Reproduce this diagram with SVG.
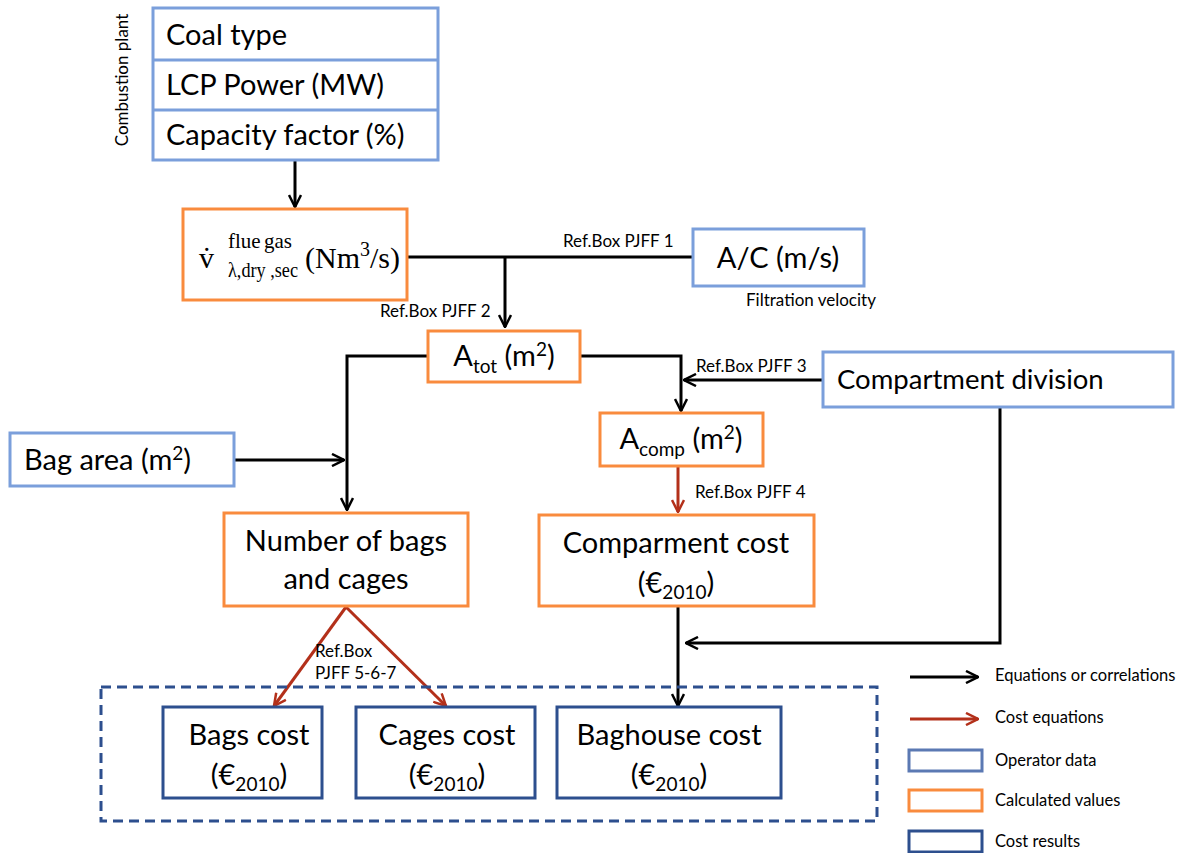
<svg xmlns="http://www.w3.org/2000/svg" width="1184" height="853" viewBox="0 0 1184 853">
<style>
text{font-family:Lato,"Open Sans","Liberation Sans",sans-serif;fill:#000}
.in{fill:#fff;stroke:#7b9fdb;stroke-width:3}
.calc{fill:#fff;stroke:#f98b3e;stroke-width:3}
.res{fill:#fff;stroke:#2d4f8e;stroke-width:3}
.big{font-size:29px}
.lbl{font-size:17px}
.leg{font-size:16.5px}
.blk{fill:none;stroke:#000;stroke-width:3}
.red{fill:none;stroke:#b3301a;stroke-width:3}
.serif{font-family:"Liberation Serif","DejaVu Serif",serif}
</style>
<defs>
<marker id="ab" viewBox="0 0 14 14" refX="13" refY="7" markerWidth="14" markerHeight="14" markerUnits="userSpaceOnUse" orient="auto"><path d="M1,1 L13,7 L1,13" fill="none" stroke="#000" stroke-width="2.5"/></marker>
<marker id="ar" viewBox="0 0 14 14" refX="13" refY="7" markerWidth="14" markerHeight="14" markerUnits="userSpaceOnUse" orient="auto"><path d="M1,1 L13,7 L1,13" fill="none" stroke="#b3301a" stroke-width="2.5"/></marker>
</defs>

<g id="connectors">
<path class="blk" d="M295,160 V207" marker-end="url(#ab)"/>
<path class="blk" d="M407,257 H693"/>
<path class="blk" d="M505,257 V327" marker-end="url(#ab)"/>
<path class="blk" d="M428,356 H347 V510" marker-end="url(#ab)"/>
<path class="blk" d="M234,460 H344" marker-end="url(#ab)"/>
<path class="blk" d="M580,356 H681 V411" marker-end="url(#ab)"/>
<path class="blk" d="M823,380 H684" marker-end="url(#ab)"/>
<path class="red" d="M678,466 V512" marker-end="url(#ar)"/>
<path class="blk" d="M1000,407 V643 H686" marker-end="url(#ab)"/>
<path class="blk" d="M678,606 V706" marker-end="url(#ab)"/>
<path class="red" d="M346,607 L274,706" marker-end="url(#ar)"/>
<path class="red" d="M346,607 L446,706" marker-end="url(#ar)"/>
<text class="lbl" x="563" y="247">Ref.Box PJFF 1</text>
<text class="lbl" x="380" y="317">Ref.Box PJFF 2</text>
<text class="lbl" x="696" y="372">Ref.Box PJFF 3</text>
<text class="lbl" x="695" y="498">Ref.Box PJFF 4</text>
<text class="lbl" x="315" y="657">Ref.Box</text>
<text class="lbl" x="315" y="679">PJFF 5-6-7</text>
</g>

<g id="combustion-plant">
<rect class="in" x="153" y="8" width="285" height="152"/>
<line class="in" x1="153" y1="60" x2="438" y2="60"/>
<line class="in" x1="153" y1="110" x2="438" y2="110"/>
<text class="big" x="166" y="45">Coal type</text>
<text class="big" x="166" y="95">LCP Power (MW)</text>
<text class="big" x="166" y="145">Capacity factor (%)</text>
<text class="lbl" transform="translate(128,80) rotate(-90)" text-anchor="middle">Combustion plant</text>
</g>

<g id="flue-gas">
<rect class="calc" x="183" y="209" width="224" height="91"/>
<text class="serif" x="199" y="268" font-size="30">v̇</text>
<text class="serif" x="228" y="248" font-size="21">flue</text>
<text class="serif" x="264" y="248" font-size="21">gas</text>
<text class="serif" x="228" y="277" font-size="20" textLength="70" lengthAdjust="spacingAndGlyphs">λ,dry ,sec</text>
<text class="serif" x="305" y="268" font-size="30">(Nm<tspan font-size="20" dy="-12">3</tspan><tspan dy="12">/s)</tspan></text>
</g>

<g id="ac">
<rect class="in" x="693" y="229" width="171" height="57"/>
<text class="big" x="778" y="268" text-anchor="middle">A/C (m/s)</text>
<text class="lbl" x="746" y="306">Filtration velocity</text>
</g>

<g id="atot">
<rect class="calc" x="428" y="331" width="152" height="51"/>
<text class="big" x="504" y="366" text-anchor="middle">A<tspan font-size="19" dy="7">tot</tspan><tspan dy="-7"> (m</tspan><tspan font-size="19" dy="-10">2</tspan><tspan dy="10">)</tspan></text>
</g>

<g id="compartment-division">
<rect class="in" x="823" y="352" width="350" height="55"/>
<text x="837" y="389" font-size="27.5">Compartment division</text>
</g>

<g id="acomp">
<rect class="calc" x="600" y="413" width="163" height="53"/>
<text class="big" x="681" y="449" text-anchor="middle">A<tspan font-size="19" dy="7">comp</tspan><tspan dy="-7"> (m</tspan><tspan font-size="19" dy="-10">2</tspan><tspan dy="10">)</tspan></text>
</g>

<g id="bag-area">
<rect class="in" x="10" y="433" width="224" height="53"/>
<text class="big" x="24" y="470">Bag area (m<tspan font-size="19" dy="-10">2</tspan><tspan dy="10">)</tspan></text>
</g>

<g id="number-bags">
<rect class="calc" x="224" y="513" width="244" height="93"/>
<text class="big" x="346" y="551" text-anchor="middle">Number of bags</text>
<text class="big" x="346" y="589" text-anchor="middle">and cages</text>
</g>

<g id="compartment-cost">
<rect class="calc" x="539" y="515" width="275" height="91"/>
<text class="big" x="676" y="553" text-anchor="middle">Comparment cost</text>
<text class="big" x="676" y="593" text-anchor="middle">(€<tspan font-size="19" dy="6">2010</tspan><tspan dy="-6">)</tspan></text>
</g>

<g id="results-group">
<rect x="101" y="687" width="776" height="134" fill="none" stroke="#2d4f8e" stroke-width="3" stroke-dasharray="10,6"/>
</g>

<g id="bags-cost">
<rect class="res" x="163" y="707" width="159" height="91"/>
<text class="big" x="249" y="745" text-anchor="middle">Bags cost</text>
<text class="big" x="249" y="785" text-anchor="middle">(€<tspan font-size="19" dy="6">2010</tspan><tspan dy="-6">)</tspan></text>
</g>

<g id="cages-cost">
<rect class="res" x="356" y="707" width="179" height="91"/>
<text class="big" x="447" y="745" text-anchor="middle">Cages cost</text>
<text class="big" x="447" y="785" text-anchor="middle">(€<tspan font-size="19" dy="6">2010</tspan><tspan dy="-6">)</tspan></text>
</g>

<g id="baghouse-cost">
<rect class="res" x="557" y="707" width="224" height="91"/>
<text class="big" x="669" y="745" text-anchor="middle">Baghouse cost</text>
<text class="big" x="669" y="785" text-anchor="middle">(€<tspan font-size="19" dy="6">2010</tspan><tspan dy="-6">)</tspan></text>
</g>

<g id="legend">
<path class="blk" d="M910,677 H978" marker-end="url(#ab)"/>
<text class="leg" x="995" y="681">Equations or correlations</text>
<path class="red" d="M910,719 H978" marker-end="url(#ar)"/>
<text class="leg" x="995" y="723">Cost equations</text>
<rect x="909" y="750" width="73" height="21" fill="#fff" stroke="#5b79b3" stroke-width="3"/>
<text class="leg" x="995" y="766">Operator data</text>
<rect x="909" y="790" width="73" height="21" fill="#fff" stroke="#f98b3e" stroke-width="3"/>
<text class="leg" x="995" y="806">Calculated values</text>
<rect x="909" y="831" width="73" height="21" fill="#fff" stroke="#2d4f8e" stroke-width="3"/>
<text class="leg" x="995" y="847">Cost results</text>
</g>
</svg>
